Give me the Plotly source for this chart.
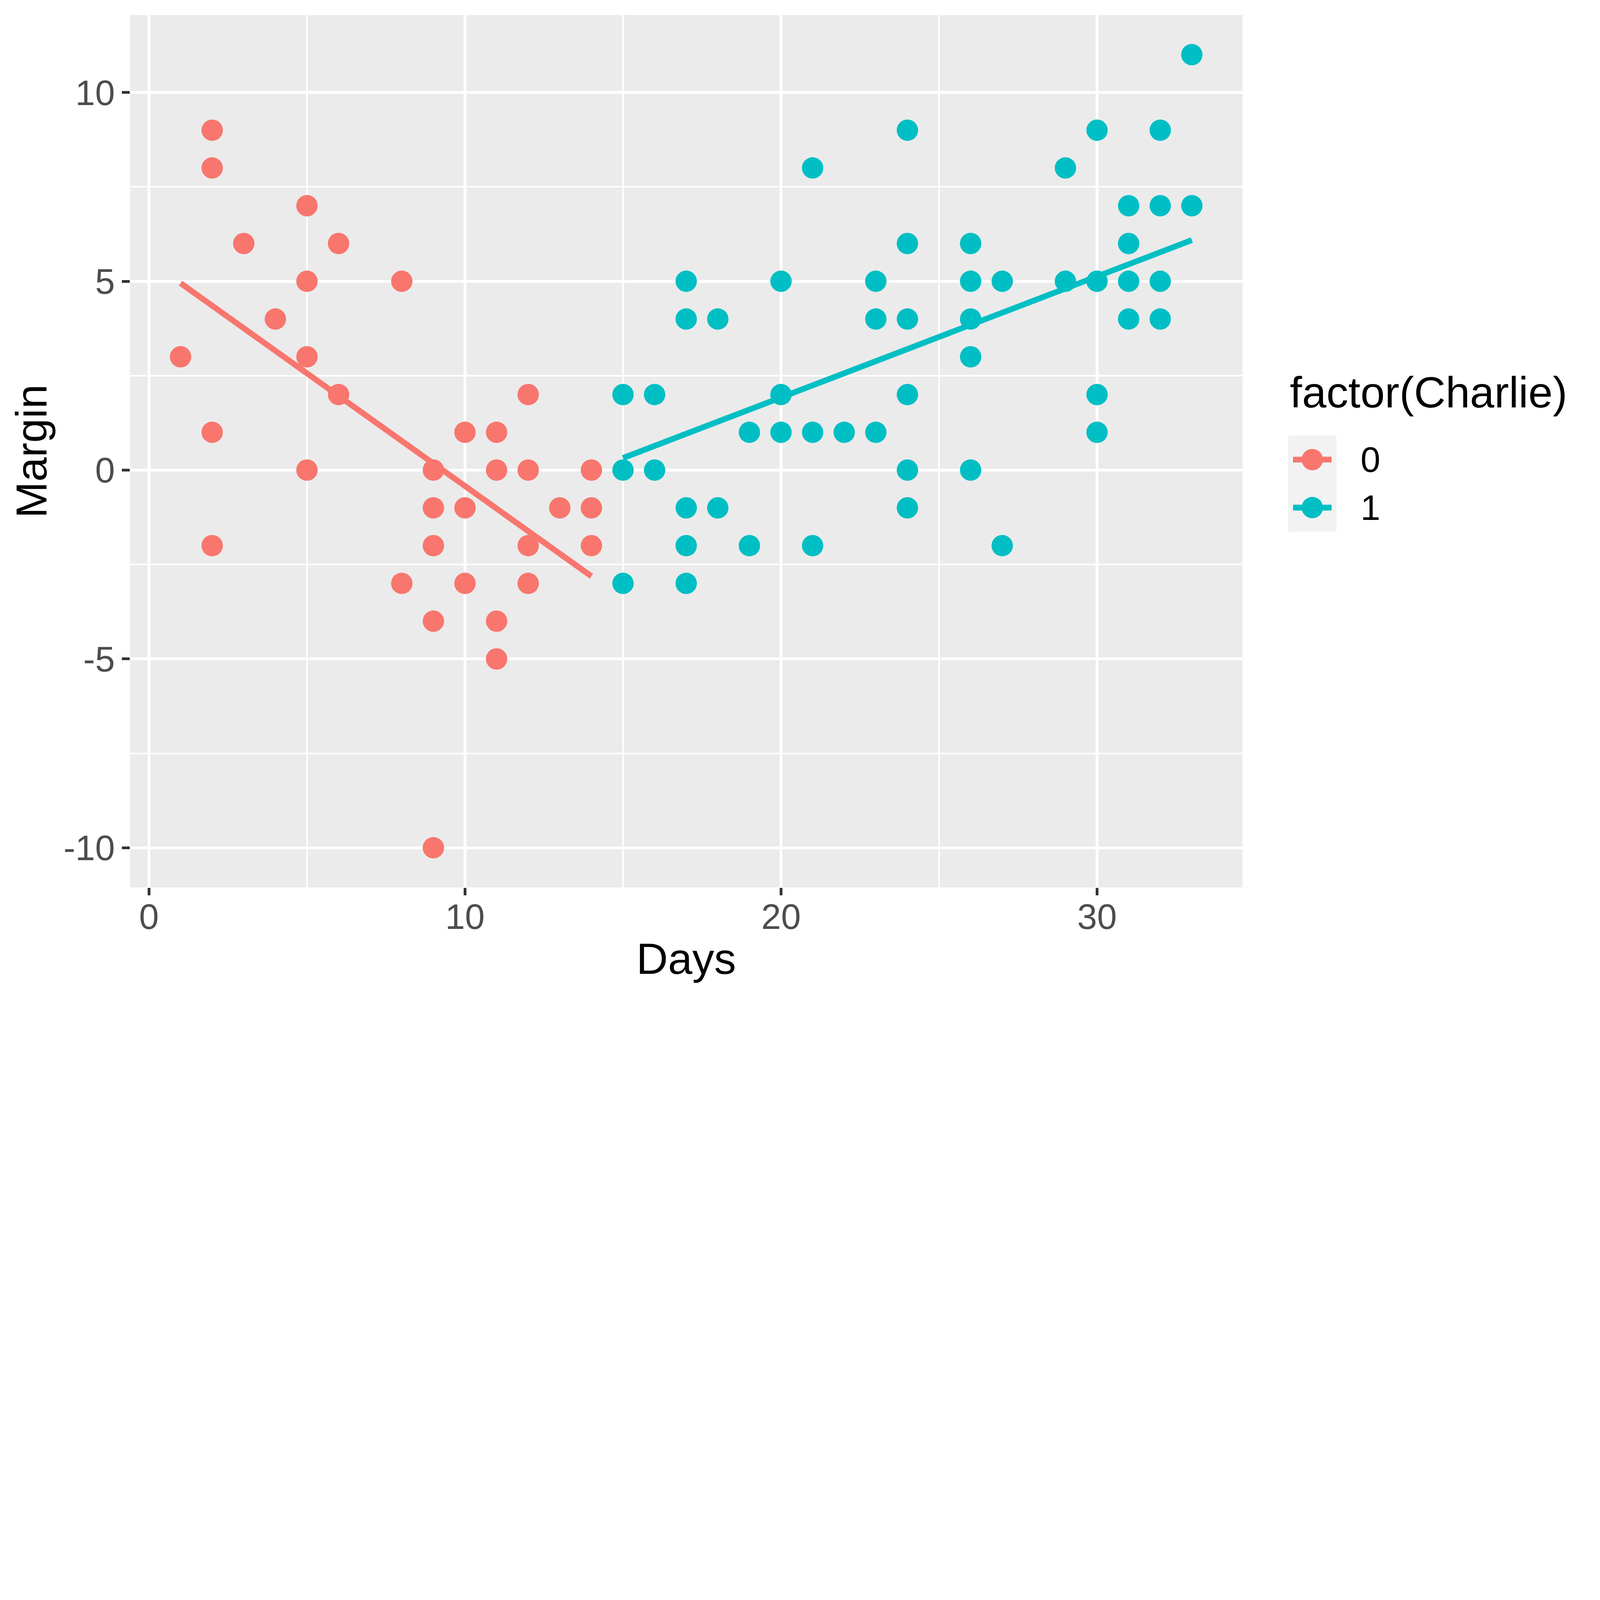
import plotly.graph_objects as go

# ---------------- data ----------------
categories = ["0", "1"]
colors = ["#F8766D", "#00BFC4"]

days_0 = [1, 2, 2, 2, 2, 3, 4, 5, 5, 5, 5, 6, 6, 8, 8, 9, 9, 9, 9, 9,
          10, 10, 10, 11, 11, 11, 11, 12, 12, 12, 12, 13, 14, 14, 14]
margin_0 = [3, 9, 8, 1, -2, 6, 4, 7, 5, 3, 0, 6, 2, 5, -3, 0, -1, -2, -4, -10,
            1, -1, -3, 1, 0, -4, -5, 2, 0, -2, -3, -1, 0, -1, -2]

days_1 = [15, 15, 15, 16, 16, 17, 17, 17, 17, 17, 18, 18, 19, 19, 20, 20, 20,
          21, 21, 21, 22, 23, 23, 23, 24, 24, 24, 24, 24, 24, 26, 26, 26, 26, 26,
          27, 27, 29, 29, 30, 30, 30, 30, 31, 31, 31, 31, 32, 32, 32, 32, 33, 33]
margin_1 = [2, 0, -3, 2, 0, 5, 4, -1, -2, -3, 4, -1, 1, -2, 5, 2, 1,
            8, 1, -2, 1, 5, 4, 1, 9, 6, 4, 2, 0, -1, 6, 5, 4, 3, 0,
            5, -2, 8, 5, 9, 5, 2, 1, 7, 6, 5, 4, 9, 7, 5, 4, 11, 7]

# linear-fit lines (geom_smooth, method = lm)
fit_x_0 = [1, 14]
fit_y_0 = [4.95, -2.81]
fit_x_1 = [15, 33]
fit_y_1 = [0.32, 6.09]

x_ticks = [0, 10, 20, 30]
y_ticks = [-10, -5, 0, 5, 10]

x_title = "Days"
y_title = "Margin"
legend_title = "factor(Charlie)"

# ---------------- figure ----------------
# the browser viewport is 4096 px wide, so the 8000x5000 design is scaled to fit
W0, H0 = 8000, 5000
S = 4096 / W0
W, H = int(round(W0 * S)), int(round(H0 * S))


def px(v):
    return v * S


FONT = "Liberation Sans, Arial, Helvetica, sans-serif"
TICK_FONT = px(178)
TITLE_FONT = px(219)
PT_SIZE = px(107)
LINE_W = px(29)

groups = [(days_0, margin_0, fit_x_0, fit_y_0), (days_1, margin_1, fit_x_1, fit_y_1)]

fig = go.Figure()
for (xs, ys, _, _), c in zip(groups, colors):
    fig.add_trace(go.Scatter(x=xs, y=ys, mode="markers",
                             marker=dict(size=PT_SIZE, color=c, line=dict(width=0)),
                             showlegend=False, hoverinfo="skip", cliponaxis=False))
for (_, _, fx, fy), c in zip(groups, colors):
    fig.add_trace(go.Scatter(x=fx, y=fy, mode="lines",
                             line=dict(color=c, width=LINE_W),
                             showlegend=False, hoverinfo="skip"))

# axis ranges with ggplot-style 5% expansion
all_x = days_0 + days_1
all_y = margin_0 + margin_1
xspan = max(all_x) - min(all_x)
yspan = max(all_y) - min(all_y)
xr = [min(all_x) - 0.05 * xspan, max(all_x) + 0.05 * xspan]
yr = [min(all_y) - 0.05 * yspan, max(all_y) + 0.05 * yspan]

# legend keys drawn on a small helper subplot
n = len(categories)
for i, (cat, c) in enumerate(zip(categories, colors)):
    yc = n - 1 - i + 0.5
    fig.add_trace(go.Scatter(x=[0.1, 0.9], y=[yc, yc], mode="lines",
                             line=dict(color=c, width=LINE_W), xaxis="x2", yaxis="y2",
                             showlegend=False, hoverinfo="skip"))
    fig.add_trace(go.Scatter(x=[0.5], y=[yc], mode="markers",
                             marker=dict(size=PT_SIZE, color=c), xaxis="x2", yaxis="y2",
                             showlegend=False, hoverinfo="skip", cliponaxis=False))

panel_x = [650 / W0, 6212 / W0]
panel_y = [1 - 4437 / H0, 1 - 75 / H0]

annotations = [
    dict(text=legend_title, xref="paper", yref="paper",
         x=6446 / W0, y=1 - 1961 / H0, xanchor="left", yanchor="middle",
         showarrow=False, font=dict(size=TITLE_FONT, color="black", family=FONT)),
    dict(text=x_title, xref="paper", yref="paper",
         x=(panel_x[0] + panel_x[1]) / 2, y=1 - 4794 / H0, xanchor="center", yanchor="middle",
         showarrow=False, font=dict(size=TITLE_FONT, color="black", family=FONT)),
    dict(text=y_title, xref="paper", yref="paper", textangle=-90,
         x=157 / W0, y=(panel_y[0] + panel_y[1]) / 2, xanchor="center", yanchor="middle",
         showarrow=False, font=dict(size=TITLE_FONT, color="black", family=FONT)),
]
for i, cat in enumerate(categories):
    annotations.append(dict(text=cat, xref="x2", yref="y2", x=1, y=n - 1 - i + 0.5,
                            xanchor="left", yanchor="middle", xshift=px(117),
                            showarrow=False, font=dict(size=TICK_FONT, color="black", family=FONT)))

axis_common = dict(showgrid=True, gridcolor="white", gridwidth=px(14), zeroline=False,
                   showline=False, ticks="outside", ticklen=px(38), tickwidth=px(14),
                   tickcolor="#333333",
                   tickfont=dict(size=TICK_FONT, color="#4D4D4D", family=FONT),
                   automargin=False)

fig.update_layout(
    width=W, height=H,
    margin=dict(l=0, r=0, t=0, b=0),
    paper_bgcolor="white", plot_bgcolor="#EBEBEB",
    font=dict(family=FONT, color="black"),
    showlegend=False,
    annotations=annotations,
    shapes=[dict(type="rect", xref="x2 domain", yref="y2 domain", x0=0, x1=1, y0=0, y1=1,
                 fillcolor="#F2F2F2", line=dict(width=0), layer="below")],
    xaxis=dict(domain=panel_x, range=xr, tickvals=x_ticks,
               ticktext=[str(v) for v in x_ticks], ticklabelstandoff=-24,
               minor=dict(dtick=5, tick0=0, showgrid=True, gridcolor="white",
                          gridwidth=px(7), ticks=""),
               anchor="y", **axis_common),
    yaxis=dict(domain=panel_y, range=yr, tickvals=y_ticks,
               ticktext=[str(v) for v in y_ticks],
               minor=dict(dtick=2.5, tick0=0, showgrid=True, gridcolor="white",
                          gridwidth=px(7), ticks=""),
               anchor="x", **axis_common),
    xaxis2=dict(domain=[6441 / W0, 6682 / W0], range=[0, 1], visible=False, anchor="y2"),
    yaxis2=dict(domain=[1 - 2658 / H0, 1 - 2178 / H0], range=[0, n], visible=False, anchor="x2"),
)

fig.write_html("out.html", config={"displayModeBar": False},
               post_script="document.body.style.margin='0';")
